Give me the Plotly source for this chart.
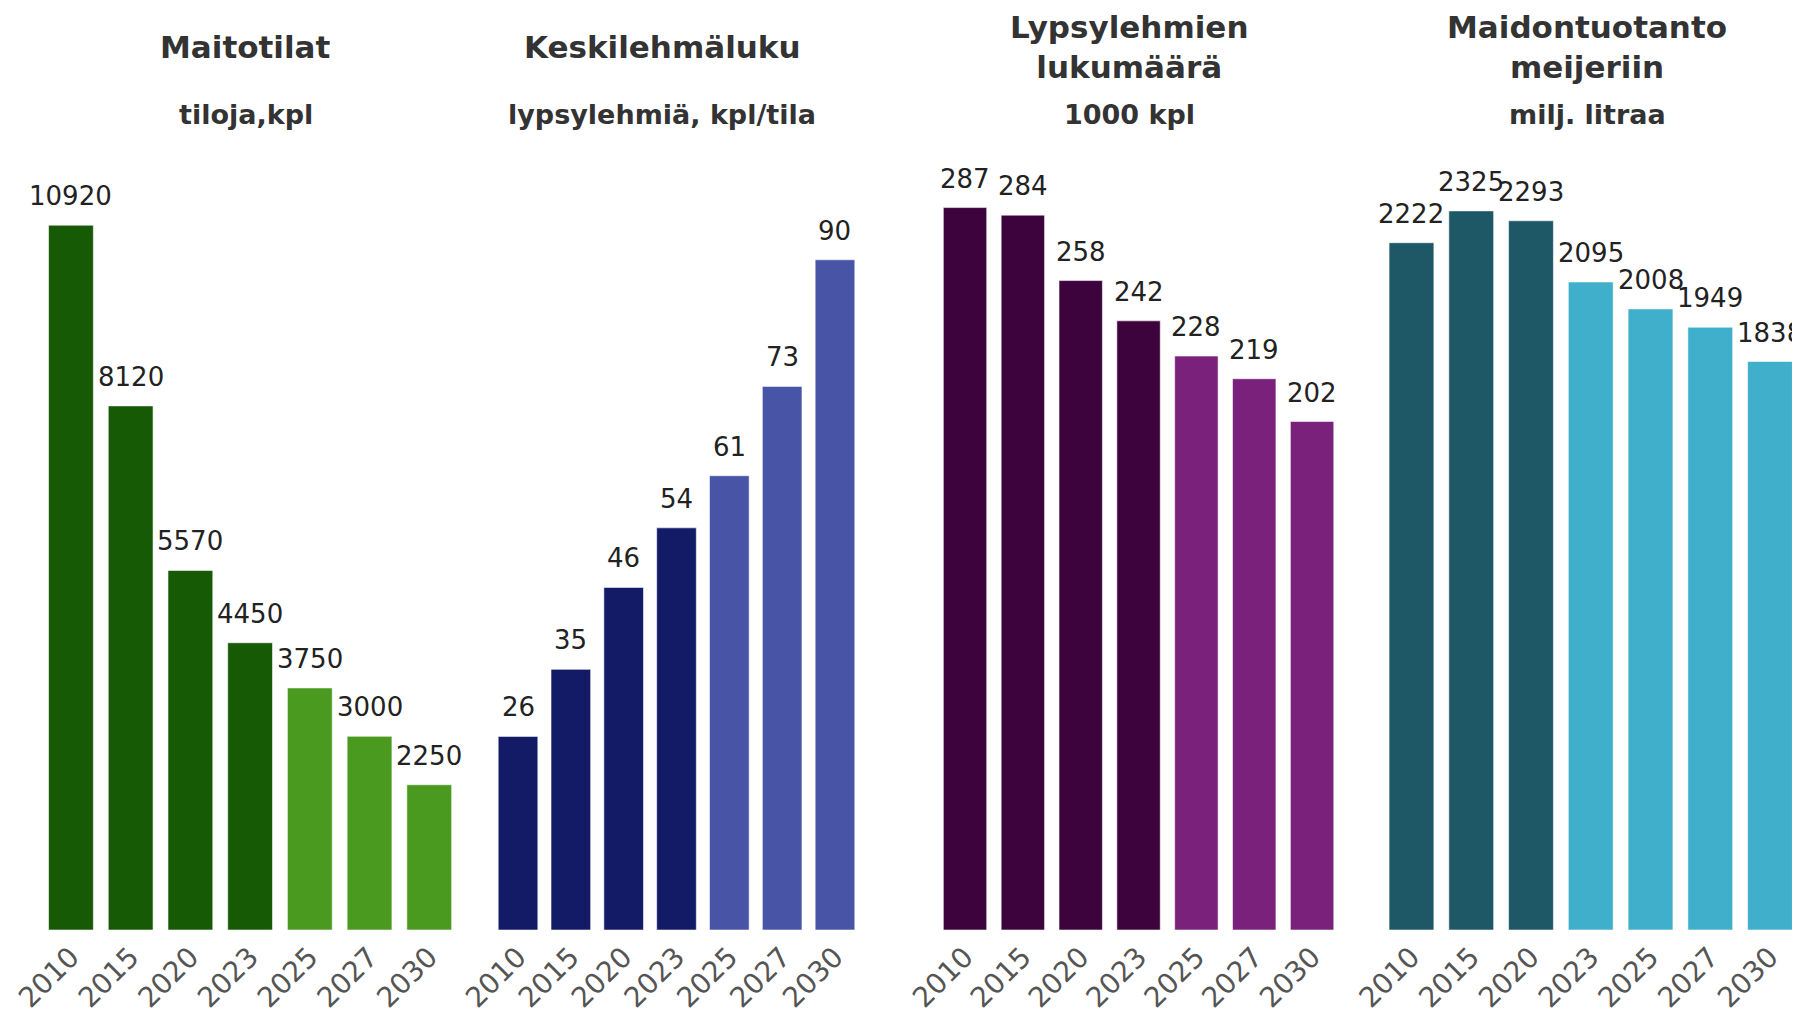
import plotly.graph_objects as go

# ---- data ----
years = ["2010", "2015", "2020", "2023", "2025", "2027", "2030"]
maitotilat = [10920, 8120, 5570, 4450, 3750, 3000, 2250]
keskilehmaluku = [26, 35, 46, 54, 61, 73, 90]
lypsylehmat = [287, 284, 258, 242, 228, 219, 202]
maidontuotanto = [2222, 2325, 2293, 2095, 2008, 1949, 1838]

titles = ["Maitotilat", "Keskilehmäluku", "Lypsylehmien<br>lukumäärä", "Maidontuotanto<br>meijeriin"]
subtitles = ["tiloja,kpl", "lypsylehmiä, kpl/tila", "1000 kpl", "milj. litraa"]

# ---- styles ----
W, H = 1800, 1021
OFF = 8  # page body margin
TOP, BOTTOM = 160 - OFF, 930 - OFF
FONT = "Verdana, DejaVu Sans, sans-serif"
panels = [
    dict(values=maitotilat, dark="#175A06", light="#4A9A20", n_dark=4, ymax=11930, px=(41.1, 459.1), tx=238),
    dict(values=keskilehmaluku, dark="#131A66", light="#4854A6", n_dark=4, ymax=103.4, px=(491.6, 861.4), tx=654),
    dict(values=lypsylehmat, dark="#3C033C", light="#7A217C", n_dark=4, ymax=305.9, px=(936.1, 1341.0), tx=1121),
    dict(values=maidontuotanto, dark="#1E5866", light="#3FAFCB", n_dark=3, ymax=2489.5, px=(1381.6, 1799.9), tx=1579),
]

fig = go.Figure()
annotations = []
ph = BOTTOM - TOP
for i, p in enumerate(panels):
    n = i + 1
    xa = "x" if n == 1 else f"x{n}"
    ya = "y" if n == 1 else f"y{n}"
    colors = [p["dark"] if k < p["n_dark"] else p["light"] for k in range(len(years))]
    fig.add_trace(go.Bar(
        x=years, y=p["values"], xaxis=xa, yaxis=ya,
        marker=dict(color=colors, line=dict(color="rgba(255,255,255,0.55)", width=1)),
        showlegend=False, hoverinfo="x+y",
    ))
    for k, v in enumerate(p["values"]):
        annotations.append(dict(
            x=k, y=v, xref=xa, yref=ya, text=str(v), showarrow=False,
            yanchor="bottom", xanchor="center", yshift=12,
            font=dict(family=FONT, size=26, color="#222222"),
        ))
    xkey = "xaxis" if n == 1 else f"xaxis{n}"
    ykey = "yaxis" if n == 1 else f"yaxis{n}"
    fig.update_layout({
        xkey: dict(domain=[(p["px"][0] - OFF) / W, (p["px"][1] - OFF) / W], anchor=ya, type="category",
                   range=[-0.5, len(years) - 0.5], automargin=False,
                   tickangle=-45, showgrid=False, showline=False, zeroline=False,
                   ticks="", ticklabelstandoff=4,
                   tickfont=dict(family=FONT, size=28, color="#555555")),
        ykey: dict(domain=[0, 1], anchor=xa, range=[0, p["ymax"]], visible=False,
                   showgrid=False, zeroline=False, automargin=False),
    })
    annotations.append(dict(
        x=p["tx"] / W, y=(BOTTOM - 39) / ph, xref="paper", yref="paper",
        text=f"<b>{titles[i]}</b>", showarrow=False, xanchor="center", yanchor="middle",
        font=dict(family=FONT, size=31, color="#333333"),
    ))
    annotations.append(dict(
        x=p["tx"] / W, y=(BOTTOM - 106) / ph, xref="paper", yref="paper",
        text=f"<b>{subtitles[i]}</b>", showarrow=False, xanchor="center", yanchor="middle",
        font=dict(family=FONT, size=27, color="#333333"),
    ))

fig.update_layout(
    width=W, height=H,
    margin=dict(l=0, r=0, t=TOP, b=H - BOTTOM, pad=0, autoexpand=False),
    bargap=0.25,
    paper_bgcolor="white", plot_bgcolor="white",
    annotations=annotations,
    font=dict(family=FONT),
)

fig.write_html("out.html")
